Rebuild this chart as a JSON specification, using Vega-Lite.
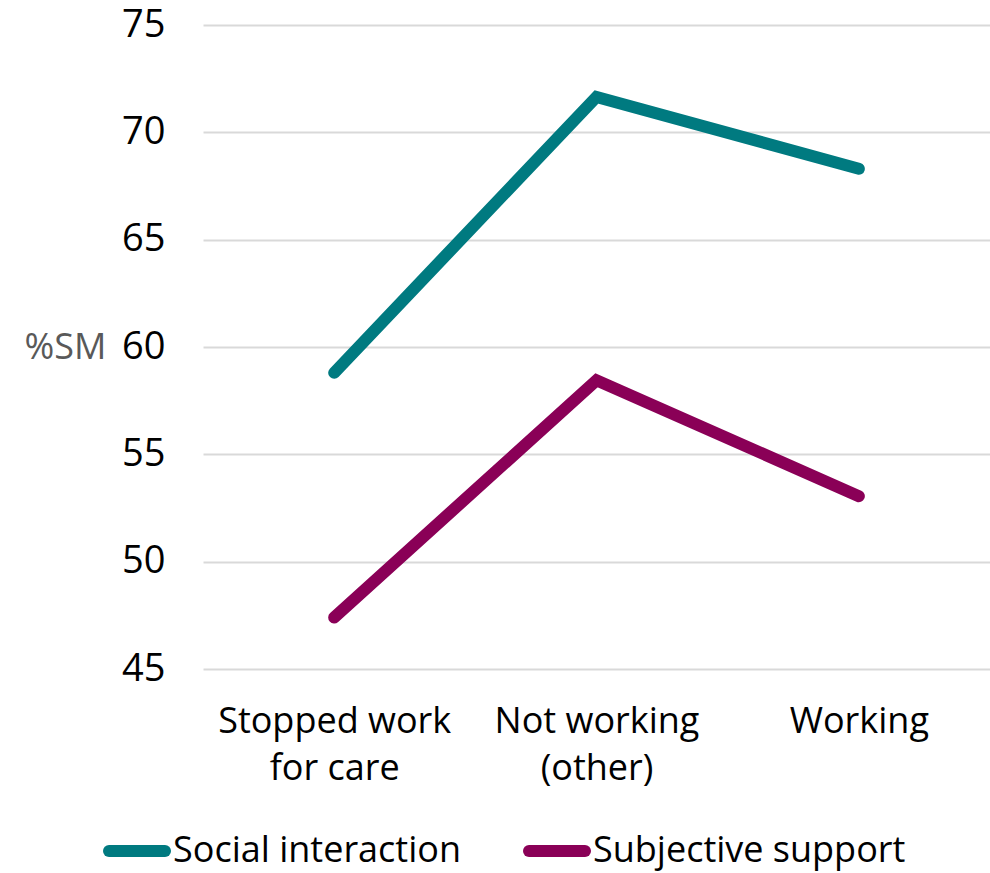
{
  "$schema": "https://vega.github.io/schema/vega-lite/v6.json",
  "width": 787,
  "height": 644,
  "autosize": {"type": "none"},
  "padding": {"left": 203, "top": 25, "right": 0, "bottom": 204},
  "background": "white",
  "config": {
    "view": {"stroke": null},
    "font": "Open Sans"
  },
  "data": {
    "values": [
      {"status": "Stopped work for care", "measure": "Social interaction", "value": 58.8},
      {"status": "Not working (other)", "measure": "Social interaction", "value": 71.65},
      {"status": "Working", "measure": "Social interaction", "value": 68.3},
      {"status": "Stopped work for care", "measure": "Subjective support", "value": 47.4},
      {"status": "Not working (other)", "measure": "Subjective support", "value": 58.45},
      {"status": "Working", "measure": "Subjective support", "value": 53.05}
    ]
  },
  "mark": {"type": "line", "strokeWidth": 12, "strokeCap": "round", "strokeJoin": "miter"},
  "encoding": {
    "x": {
      "field": "status",
      "type": "nominal",
      "sort": ["Stopped work for care", "Not working (other)", "Working"],
      "scale": {"type": "point", "padding": 0.5},
      "axis": {
        "title": null,
        "labelAngle": 0,
        "domain": false,
        "ticks": false,
        "labelFontSize": 36,
        "labelLimit": 0,
        "labelColor": "black",
        "labelPadding": 35,
        "labelBaseline": "top",
        "labelLineHeight": 47,
        "labelExpr": "datum.value == 'Stopped work for care' ? ['Stopped work', 'for care'] : datum.value == 'Not working (other)' ? ['Not working', '(other)'] : datum.value"
      }
    },
    "y": {
      "field": "value",
      "type": "quantitative",
      "scale": {"domain": [45, 75], "nice": false, "zero": false},
      "axis": {
        "values": [45, 50, 55, 60, 65, 70, 75],
        "domain": false,
        "ticks": false,
        "gridColor": "#D9D9D9",
        "gridWidth": 2,
        "labelFontSize": 38,
        "labelColor": "black",
        "labelPadding": 38,
        "title": "%SM",
        "titleAngle": 0,
        "titleAlign": "right",
        "titleBaseline": "middle",
        "titleX": -97,
        "titleY": 322,
        "titleFontSize": 36,
        "titleFontWeight": "normal",
        "titleColor": "#595959"
      }
    },
    "color": {
      "field": "measure",
      "type": "nominal",
      "scale": {"domain": ["Social interaction", "Subjective support"], "range": ["#007A80", "#8A0057"]},
      "legend": {
        "title": null,
        "orient": "none",
        "direction": "horizontal",
        "legendX": -100,
        "legendY": 792,
        "symbolType": "stroke",
        "symbolSize": 3136,
        "symbolStrokeWidth": 12,
        "labelFontSize": 36,
        "labelLimit": 0,
        "labelColor": "black",
        "labelOffset": 2,
        "columnPadding": 44,
        "encode": {"symbols": {"update": {"strokeCap": {"value": "round"}}}}
      }
    }
  }
}
